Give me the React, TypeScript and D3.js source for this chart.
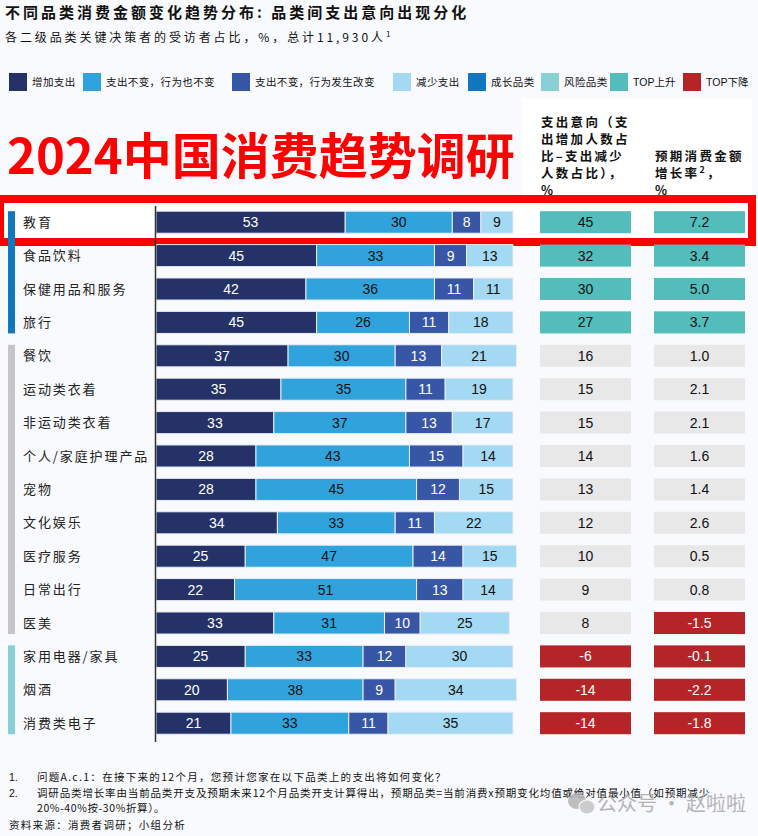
import React from 'react';
import * as d3 from 'd3';

const categories = ['教育', '食品饮料', '保健用品和服务', '旅行', '餐饮', '运动类衣着', '非运动类衣着', '个人/家庭护理产品', '宠物', '文化娱乐', '医疗服务', '日常出行', '医美', '家用电器/家具', '烟酒', '消费类电子'];
const increaseSpend = [53, 45, 42, 45, 37, 35, 33, 28, 28, 34, 25, 22, 33, 25, 20, 21];
const sameSpendSame = [30, 33, 36, 26, 30, 35, 37, 43, 45, 33, 47, 51, 31, 33, 38, 33];
const sameSpendChange = [8, 9, 11, 11, 13, 11, 13, 15, 12, 11, 14, 13, 10, 12, 9, 11];
const decreaseSpend = [9, 13, 11, 18, 21, 19, 17, 14, 15, 22, 15, 14, 25, 30, 34, 35];
const netIntent = [45, 32, 30, 27, 16, 15, 15, 14, 13, 12, 10, 9, 8, -6, -14, -14];
const growthRate = [7.2, 3.4, 5.0, 3.7, 1.0, 2.1, 2.1, 1.6, 1.4, 2.6, 0.5, 0.8, -1.5, -0.1, -2.2, -1.8];
const groupOf = ['growth', 'growth', 'growth', 'growth', 'other', 'other', 'other', 'other', 'other', 'other', 'other', 'other', 'other', 'risk', 'risk', 'risk'];
const intentStatus = ['up', 'up', 'up', 'up', 'flat', 'flat', 'flat', 'flat', 'flat', 'flat', 'flat', 'flat', 'flat', 'down', 'down', 'down'];
const growthStatus = ['up', 'up', 'up', 'up', 'flat', 'flat', 'flat', 'flat', 'flat', 'flat', 'flat', 'flat', 'down', 'down', 'down', 'down'];

const seriesColors = ['#253268', '#30a3dc', '#3856a6', '#a3d9f2'];
const seriesText = ['#ffffff', '#111111', '#ffffff', '#111111'];
const legendNames = ['增加支出', '支出不变，行为也不变', '支出不变，行为发生改变', '减少支出', '成长品类', '风险品类', 'TOP上升', 'TOP下降'];
const legendColors = ['#253268', '#30a3dc', '#3856a6', '#a3d9f2', '#1178c0', '#88cfd6', '#52bdbb', '#b52527'];
const legendX = [9, 83, 232, 393, 468, 541, 610, 683];
const groupColors: Record<string, string> = { growth: '#1178c0', other: '#c6c6c6', risk: '#88cfd6' };
const statusFill: Record<string, string> = { up: '#52bdbb', flat: '#e8e8e8', down: '#b52527' };
const statusText: Record<string, string> = { up: '#111111', flat: '#111111', down: '#ffffff' };

const CJK = '"Noto Sans CJK SC", "Noto Sans", sans-serif';
const NUM = '"Liberation Sans", Arial, sans-serif';

export default function App() {
  const W = 758, H = 836;
  const x = d3.scaleLinear().domain([0, 100]).range([156, 513]);
  const y = d3.scaleBand<string>().domain(categories).range([205.5, 205.5 + 16 * 33.4]).paddingInner(0.34).paddingOuter(0.17);
  const bw = y.bandwidth();
  const stack = categories.map((c, i) => {
    const vals = [increaseSpend[i], sameSpendSame[i], sameSpendChange[i], decreaseSpend[i]];
    let acc = 0;
    return vals.map((v, k) => {
      const s = acc; acc += v;
      return { k, v, x0: s, x1: acc };
    });
  });
  const groupSpans: { g: string; a: number; b: number }[] = [];
  groupOf.forEach((g, i) => {
    const last = groupSpans[groupSpans.length - 1];
    if (last && last.g === g) last.b = i; else groupSpans.push({ g, a: i, b: i });
  });
  const col1X = 540, col2X = 654, colW = 91;

  return (
    <svg width={W} height={H} style={{ position: 'absolute', left: 0, top: 0, background: '#f9fafd' }}>
      <rect x={0} y={0} width={W} height={H} fill="#f9fafd" />
      <rect x={522} y={98} width={230} height={100} fill="#ffffff" />
      {/* title */}
      <text x={5} y={18} fontFamily={CJK} fontWeight={700} fontSize={15} letterSpacing={3} fill="#111">不同品类消费金额变化趋势分布: 品类间支出意向出现分化</text>
      <text x={5} y={42} fontFamily={CJK} fontSize={12} letterSpacing={2.9} fill="#111">各二级品类关键决策者的受访者占比，%，总计11,930人<tspan fontSize={8} dy={-5}>1</tspan></text>
      {/* legend */}
      {legendNames.map((n, i) => (
        <g key={n}>
          <rect x={legendX[i]} y={73} width={18} height={18} fill={legendColors[i]} />
          <text x={legendX[i] + 23} y={86} fontFamily={CJK} fontSize={10.5} letterSpacing={n.startsWith('TOP') ? 0 : 0.4} fill="#111">
            {n.startsWith('TOP') ? <><tspan fontFamily={NUM}>TOP</tspan><tspan fontFamily={CJK}>{n.slice(3)}</tspan></> : n}
          </text>
        </g>
      ))}
      {/* big red banner text */}
      <text x={7} y={174} fontFamily={CJK} fontWeight={700} fontSize={49} fill="#ff0000">2024中国消费趋势调研</text>
      {/* column headers */}
      {['支出意向（支', '出增加人数占', '比–支出减少', '人数占比），', '%'].map((t, i) => (
        <text key={i} x={541} y={127 + i * 17} fontFamily={CJK} fontWeight={700} fontSize={12.5} letterSpacing={2.3} fill="#111">{t}</text>
      ))}
      <text x={655} y={161} fontFamily={CJK} fontWeight={700} fontSize={12.5} letterSpacing={2.3} fill="#111">预期消费金额</text>
      <text x={655} y={178} fontFamily={CJK} fontWeight={700} fontSize={12.5} letterSpacing={2.3} fill="#111">增长率<tspan fontSize={9} dy={-5}>2</tspan><tspan dy={5}>，</tspan></text>
      <text x={655} y={195} fontFamily={CJK} fontWeight={700} fontSize={12.5} fill="#111">%</text>
      {/* highlight frame */}
      <rect x={0} y={199} width={752} height={43} fill="#ffffff" stroke="#ff0000" strokeWidth={8} />
      {/* group bars */}
      {groupSpans.map((s) => (
        <rect key={s.g + s.a} x={8} y={y(categories[s.a])!} width={7} height={y(categories[s.b])! + bw - y(categories[s.a])!} fill={groupColors[s.g]} />
      ))}
      {/* category labels */}
      {categories.map((c) => (
        <text key={c} x={23} y={y(c)! + bw / 2 + 4.5} fontFamily={CJK} fontSize={13} letterSpacing={1.9} fill="#222">{c}</text>
      ))}
      {/* bars */}
      {stack.map((segs, i) => (
        <g key={categories[i]}>
          {segs.map((s) => (
            <g key={s.k}>
              <rect x={x(s.x0)} y={y(categories[i])!} width={x(s.x1) - x(s.x0)} height={bw} fill={seriesColors[s.k]} stroke="#e9edf6" strokeWidth={1} />
              <text x={(x(s.x0) + x(s.x1)) / 2} y={y(categories[i])! + bw / 2 + 5} textAnchor="middle" fontFamily={NUM} fontSize={14} fill={seriesText[s.k]}>{s.v}</text>
            </g>
          ))}
        </g>
      ))}
      <line x1={155.5} x2={155.5} y1={206} y2={742} stroke="#333" strokeWidth={1.5} />
      {/* right columns */}
      {categories.map((c, i) => (
        <g key={'r' + c}>
          <rect x={col1X} y={y(c)!} width={colW} height={bw} fill={statusFill[intentStatus[i]]} />
          <text x={col1X + colW / 2} y={y(c)! + bw / 2 + 5} textAnchor="middle" fontFamily={NUM} fontSize={14} fill={statusText[intentStatus[i]]}>{netIntent[i]}</text>
          <rect x={col2X} y={y(c)!} width={colW} height={bw} fill={statusFill[growthStatus[i]]} />
          <text x={col2X + colW / 2} y={y(c)! + bw / 2 + 5} textAnchor="middle" fontFamily={NUM} fontSize={14} fill={statusText[growthStatus[i]]}>{growthRate[i].toFixed(1)}</text>
        </g>
      ))}
      {/* footnotes */}
      <g fontFamily={CJK} fontSize={10.5} fill="#111">
        <text x={9} y={781} fontFamily={NUM}>1.</text>
        <text x={37} y={781} letterSpacing={1.3}>问题A.c.1：在接下来的12个月，您预计您家在以下品类上的支出将如何变化？</text>
        <text x={9} y={797} fontFamily={NUM}>2.</text>
        <text x={37} y={797} letterSpacing={0.85}>调研品类增长率由当前品类开支及预期未来12个月品类开支计算得出，预期品类=当前消费x预期变化均值或绝对值最小值（如预期减少</text>
        <text x={37} y={812} letterSpacing={0.6}>20%-40%按-30%折算）。</text>
        <text x={9} y={829} letterSpacing={1.3}>资料来源：消费者调研；小组分析</text>
      </g>
      {/* watermark */}
      <g opacity={0.85}>
        <ellipse cx={577} cy={801} rx={9} ry={8} fill="#b5b5b5" />
        <ellipse cx={587} cy={807} rx={8} ry={7} fill="#c4c4c4" stroke="#f9fafd" strokeWidth={1.2} />
        <text x={597} y={811} fontFamily={CJK} fontSize={20} fill="#a8a8a8">公众号 · 赵啦啦</text>
      </g>
    </svg>
  );
}
